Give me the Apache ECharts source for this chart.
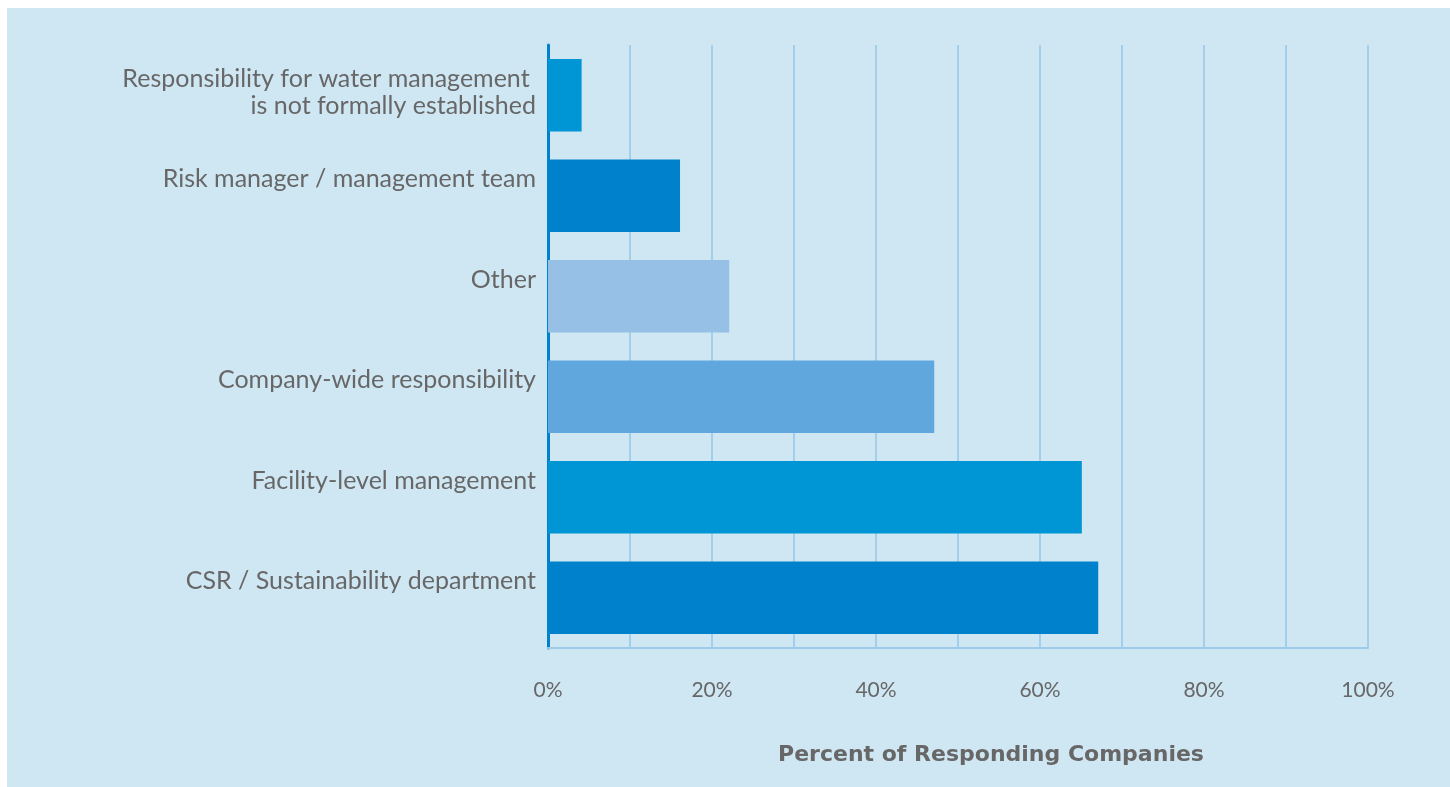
<!DOCTYPE html>
<html>
<head>
<meta charset="utf-8">
<script src="https://cdn.jsdelivr.net/npm/echarts@6/dist/echarts.min.js"></script>
<style>
  html, body { margin: 0; padding: 0; background: #ffffff; }
  #chart { position: absolute; left: 7px; top: 8px; width: 1443px; height: 779px; background: #cfe6f3; }
</style>
</head>
<body>
<div id="chart"></div>
<script>
// Who holds responsibility for water management (share of responding companies, %)
const categories = [
  'Responsibility for water management \nis not formally established',
  'Risk manager / management team',
  'Other',
  'Company-wide responsibility',
  'Facility-level management',
  'CSR / Sustainability department'
];
const values = [4.1, 16.1, 22.1, 47.1, 65.1, 67.1];
const barColors = ['#0095d5', '#0081cc', '#96c0e6', '#5fa7dd', '#0095d5', '#0081cc'];
const xTicks = [0, 20, 40, 60, 80, 100];
const axisTitle = 'Percent of Responding Companies';

const textColor = '#676767';
const fontFamily = 'Lato, "Open Sans", sans-serif';

const chart = echarts.init(document.getElementById('chart'));
chart.setOption({
  backgroundColor: '#cfe6f3',
  animation: false,
  grid: { left: 541, right: 82, top: 37, bottom: 139, containLabel: false },
  xAxis: {
    type: 'value',
    min: 0,
    max: 100,
    interval: 10,
    axisLine: { show: true, lineStyle: { color: '#9dcae8', width: 2 } },
    axisTick: { show: false },
    splitLine: { show: true, lineStyle: { color: '#a3cfea', width: 2 } },
    axisLabel: {
      color: textColor,
      fontFamily: fontFamily,
      fontSize: 21,
      margin: 32,
      formatter: v => (xTicks.indexOf(v) >= 0 ? v + '%' : '')
    },
    name: axisTitle,
    nameLocation: 'middle',
    nameGap: 96,
    nameTextStyle: {
      color: textColor,
      fontFamily: '"DejaVu Sans", sans-serif',
      fontSize: 22,
      fontWeight: 'bold',
      padding: [0, 0, 0, 66]
    }
  },
  yAxis: {
    type: 'category',
    inverse: true,
    data: categories,
    axisLine: { show: true, lineStyle: { color: '#0081cc', width: 3 } },
    axisTick: { show: false },
    splitLine: { show: false },
    axisLabel: {
      color: textColor,
      fontFamily: fontFamily,
      fontSize: 25,
      lineHeight: 27,
      margin: 12,
      align: 'right',
      verticalAlign: 'top',
      padding: [-30, 0, 0, 0]
    }
  },
  series: [{
    type: 'bar',
    barCategoryGap: '28%',
    data: values.map((v, i) => ({ value: v, itemStyle: { color: barColors[i] } })),
    z: 3
  }]
});
</script>
</body>
</html>
